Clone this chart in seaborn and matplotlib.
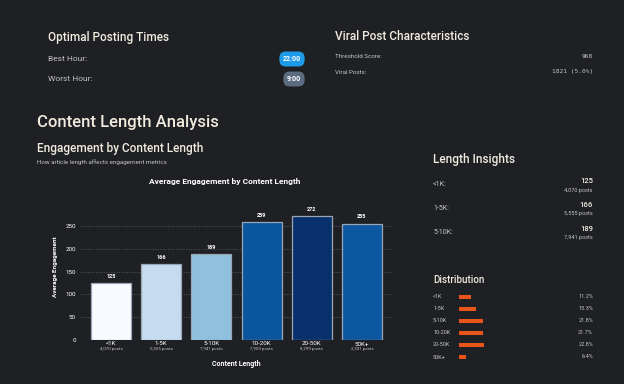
import numpy as np
import pandas as pd
import matplotlib
matplotlib.use('Agg')
import matplotlib.pyplot as plt
import seaborn as sns

# Data
length_bins = ['<1K', '1-5K', '5-10K', '10-20K', '20-50K', '50K+']
avg_engagement = [125, 166, 189, 259, 272, 255]
post_counts = ['4,070', '5,555', '7,941', '7,903', '8,299', '2,331']
dist_pct = [11.2, 15.3, 21.8, 21.7, 22.8, 6.4]
bar_colors = ['#f7fbff', '#c6dbef', '#8fc1de', '#0b559f', '#08306b', '#0d57a1']

best_hour = '22:00'
worst_hour = '9:00'
threshold_score = '968'
viral_posts = '1821 (5.0%)'

BG = '#1f2024'
HEAD = '#f2ece0'
SUB = '#c4c4c4'
W, H = 624, 384

sns.set_theme(style='dark')
plt.rcParams['font.family'] = ['Roboto', 'DejaVu Sans']

fig = plt.figure(figsize=(W / 100, H / 100), dpi=100)
fig.patch.set_facecolor(BG)

def px(x, y):
    return x / W, 1 - y / H

def txt(x, y, s, size, color=HEAD, ha='left', weight='normal', **kw):
    fig.text(*px(x, y), s, fontsize=size, color=color, ha=ha, va='center',
             fontweight=weight, **kw)

# Top cards
txt(48, 37, 'Optimal Posting Times', 8.5, weight='medium')
txt(48, 59, 'Best Hour:', 6, color=SUB)
txt(48, 79, 'Worst Hour:', 6, color=SUB)
txt(292, 59, best_hour, 5, color='white', ha='center', weight='bold',
    bbox=dict(boxstyle='round,pad=0.5,rounding_size=0.9', fc='#1e9be8', ec='none'))
txt(294, 79, worst_hour, 5, color='white', ha='center', weight='bold',
    bbox=dict(boxstyle='round,pad=0.5,rounding_size=0.9', fc='#5b6b80', ec='none'))

txt(335, 36, 'Viral Post Characteristics', 8.5, weight='medium')
txt(335, 57, 'Threshold Score:', 4.5, color=SUB)
txt(335, 72, 'Viral Posts:', 4.5, color=SUB)
txt(593, 57, threshold_score, 4.5, color=SUB, ha='right', family='DejaVu Sans Mono')
txt(593, 72, viral_posts, 4.5, color=SUB, ha='right', family='DejaVu Sans Mono')

# Section headers
txt(37, 122, 'Content Length Analysis', 12, weight='medium')
txt(37, 148, 'Engagement by Content Length', 8.5, weight='medium')
txt(37, 162, 'How article length affects engagement metrics', 4.5, color=SUB)

# Main bar chart
ax = fig.add_axes([80 / W, (H - 340) / H, 312 / W, 146 / H])
ax.set_facecolor(BG)
df = pd.DataFrame({'bin': length_bins, 'eng': avg_engagement})
sns.barplot(data=df, x='bin', y='eng', hue='bin', palette=bar_colors,
            saturation=1, width=0.8, edgecolor='#9aa6b5', linewidth=0.9,
            legend=False, ax=ax, zorder=3)
for c in ax.containers:
    ax.bar_label(c, padding=3, fontsize=4, color='white', fontweight='bold')
ax.set_ylim(0, 320)
ax.set_xlim(-0.62, 5.6)
ax.set_yticks([0, 50, 100, 150, 200, 250])
ax.tick_params(axis='y', labelsize=4.5, colors='white', length=0, pad=3)
ax.tick_params(axis='x', labelsize=4.5, colors='white', length=0, pad=1)
ax.set_xticks(range(len(length_bins)))
ax.set_xticklabels(length_bins)
for i, n in enumerate(post_counts):
    ax.text(i, -0.065, n + ' posts', transform=ax.get_xaxis_transform(),
            fontsize=3.2, color=SUB, ha='center', va='center')
ax.yaxis.grid(True, linestyle=':', color='#55585f', linewidth=0.7)
ax.xaxis.grid(False)
for s in ax.spines.values():
    s.set_visible(False)
ax.set_xlabel('Content Length', fontsize=5, color='white', fontweight='bold', labelpad=10)
ax.set_ylabel('Average Engagement', fontsize=4.5, color='white', fontweight='bold', labelpad=5)
txt(225, 182, 'Average Engagement by Content Length', 6, color='white', ha='center', weight='bold')

# Length insights
txt(433, 159, 'Length Insights', 8.5, weight='medium')
for i in range(3):
    y = 184 + 24 * i
    txt(433, y, length_bins[i] + ':', 5, color=SUB)
    txt(593, y - 3, str(avg_engagement[i]), 5.5, color=HEAD, ha='right', weight='medium')
    txt(593, y + 6, post_counts[i] + ' posts', 4, color=SUB, ha='right')

# Distribution
txt(433, 280, 'Distribution', 7, weight='medium')
dax = fig.add_axes([459 / W, (H - 363) / H, 110 / W, 72 / H])
dax.set_facecolor('none')
ddf = pd.DataFrame({'bin': length_bins, 'pct': dist_pct})
sns.barplot(data=ddf, y='bin', x='pct', orient='h', color='#e8541a',
            saturation=1, width=0.38, linewidth=0, ax=dax)
dax.set_xlim(0, 100)
dax.axis('off')
for i, (b, p) in enumerate(zip(length_bins, dist_pct)):
    y = 297 + 12 * i
    txt(433, y, b, 4, color=SUB)
    txt(593, y, f'{p}%', 4, color=SUB, ha='right')

fig.savefig('out.png', dpi=100, facecolor=BG)
